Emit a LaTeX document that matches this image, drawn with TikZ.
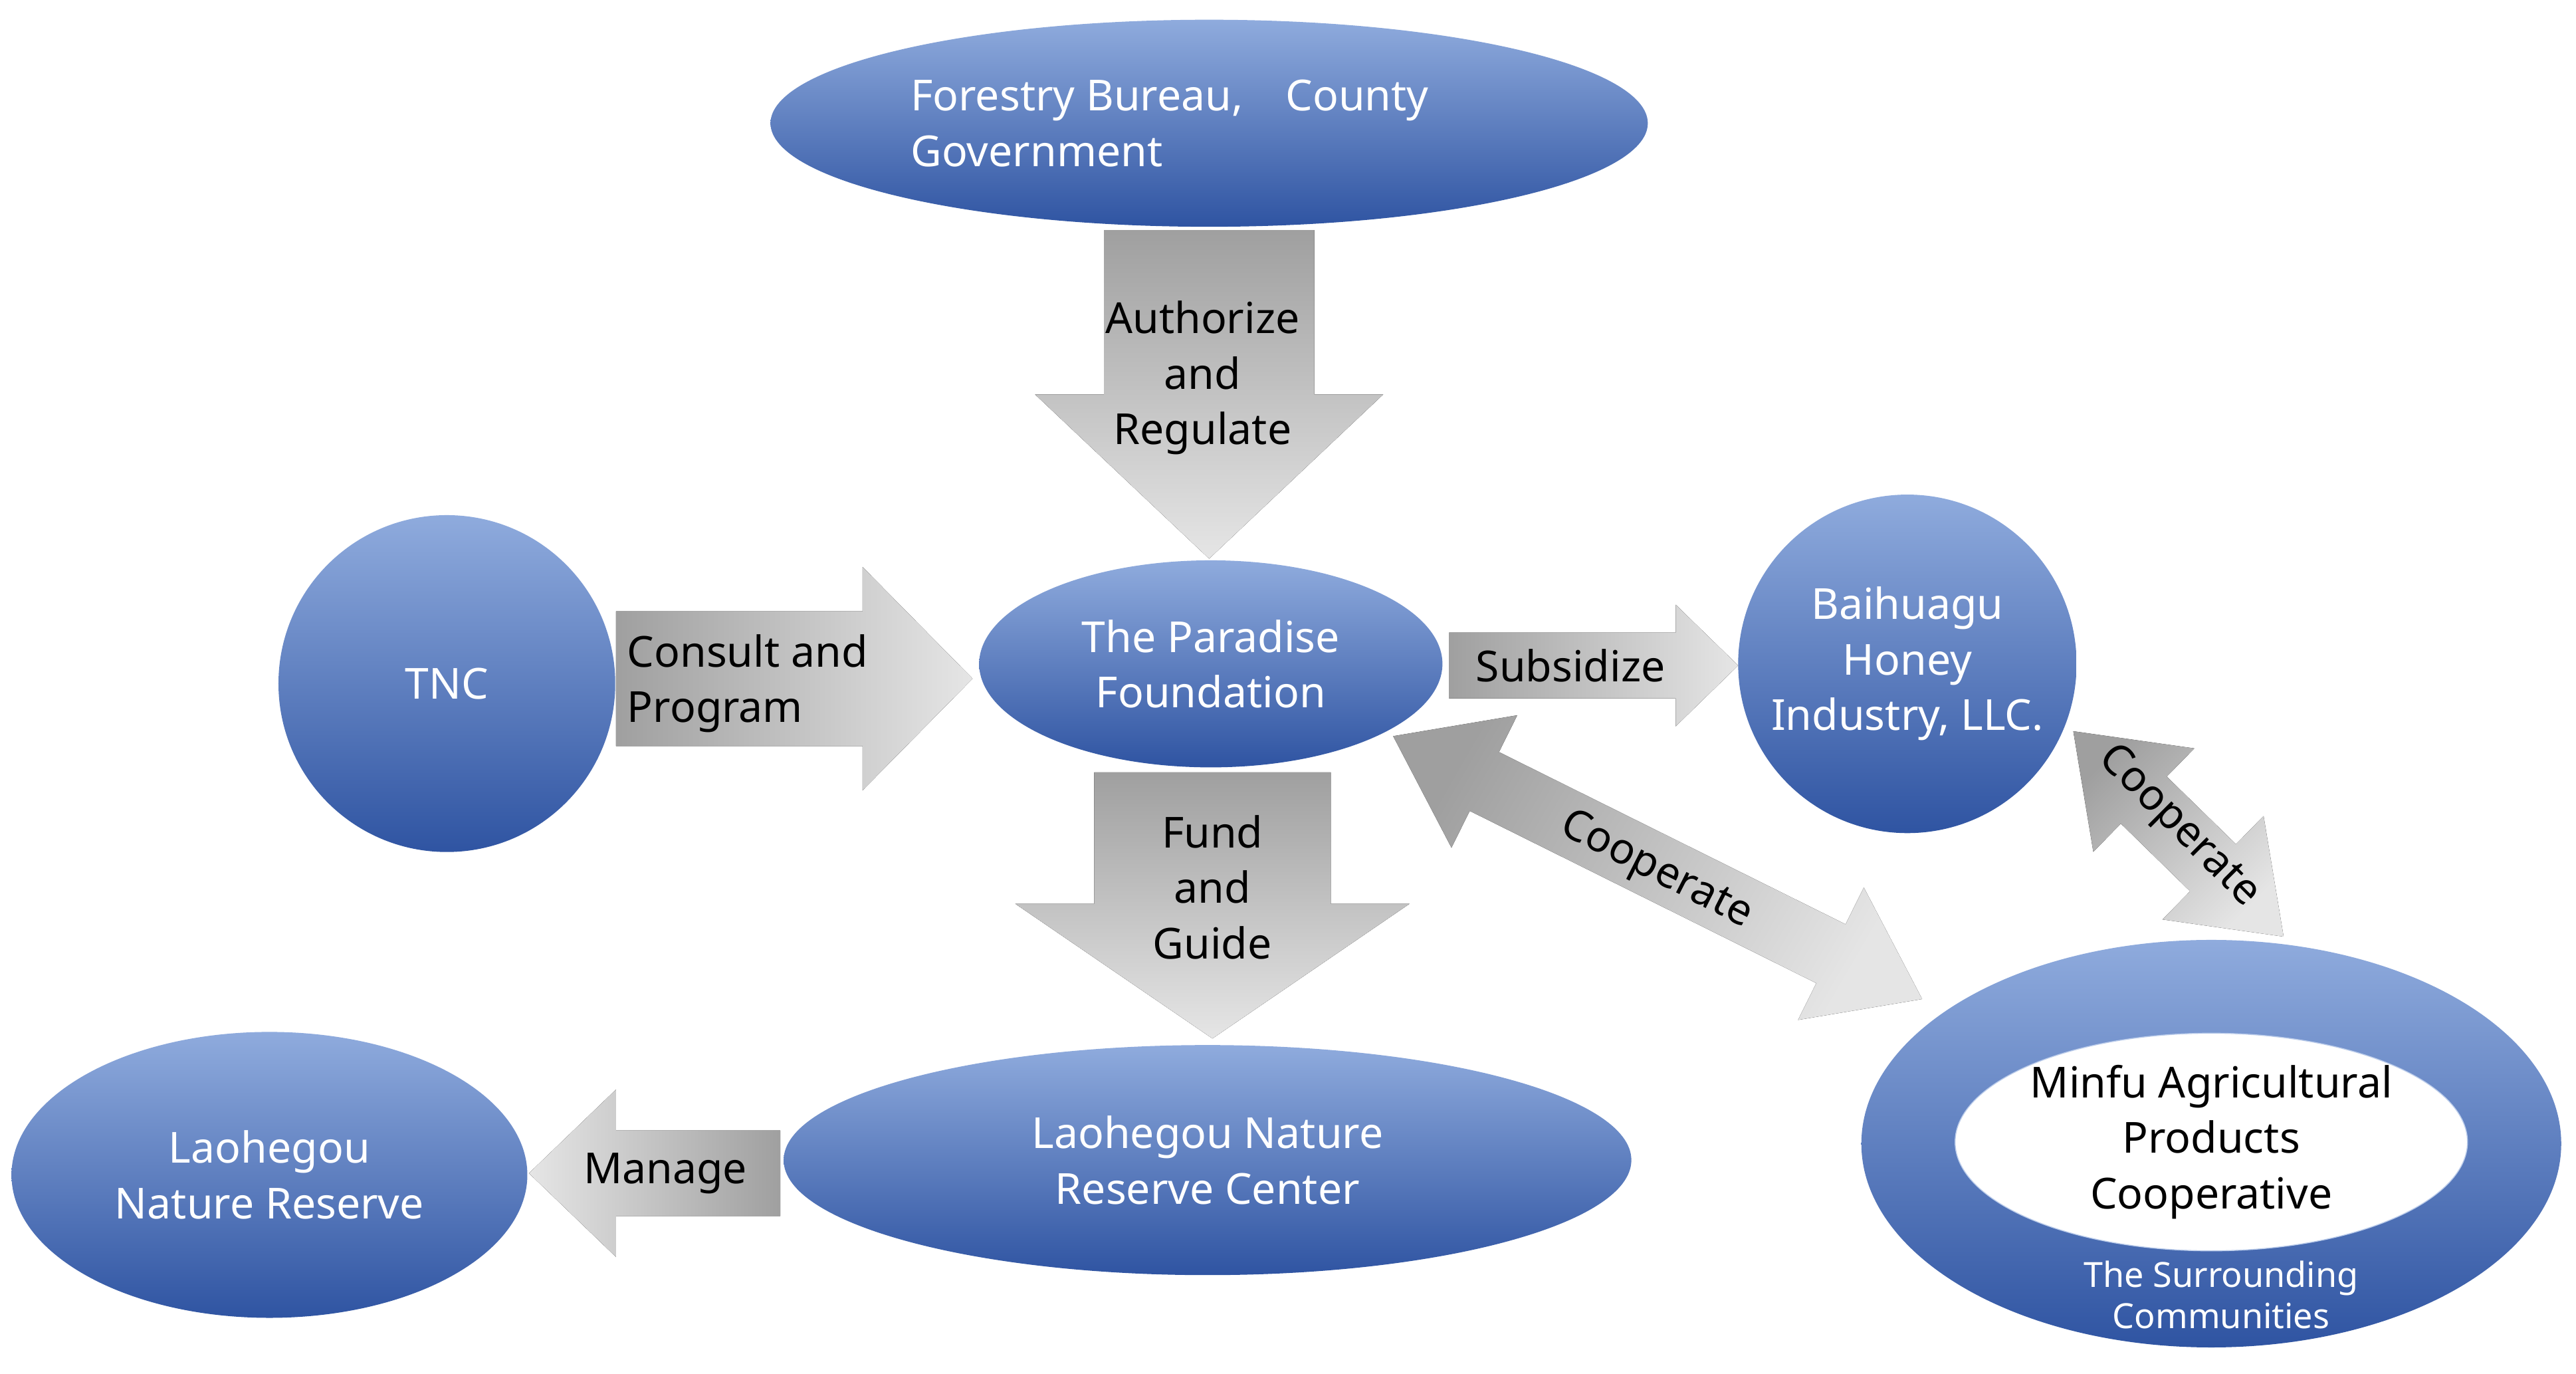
\documentclass[tikz,border=0pt]{standalone}
\usepackage{fontspec}
\setmainfont{Noto Sans}
\usetikzlibrary{calc,positioning,shapes.geometric}
\definecolor{blueTop}{HTML}{8FABDD}
\definecolor{blueBot}{HTML}{2F54A2}
\tikzset{
  org/.style={ellipse, draw=none, top color=blueTop, bottom color=blueBot,
    text=white, align=center, font=\fontsize{18.5}{24}\selectfont, inner sep=0pt},
  lbl/.style={align=center, font=\fontsize{18.5}{24}\selectfont, inner sep=1pt},
  fat/.style={draw=none, left color=gray!75, right color=gray!20},
}
% wide arrow: from, to, shaft half width, head half width, head length, shading angle
\newcommand\fatarrow[6]{%
  \coordinate (hb) at ($(#2)!{#5*0.025cm}!(#1)$);
  \fill[fat, shading angle=#6]
    ($(#1)!{#3*0.025cm}!90:(#2)$) -- ($(hb)!{#3*0.025cm}!-90:(#1)$)
    -- ($(hb)!{#4*0.025cm}!-90:(#1)$) -- (#2)
    -- ($(hb)!{#4*0.025cm}!90:(#1)$) -- ($(hb)!{#3*0.025cm}!90:(#1)$)
    -- ($(#1)!{#3*0.025cm}!-90:(#2)$) -- cycle;}
% wide double arrow: end, end, shaft half width, head half width, head length, shading angle
\newcommand\dblarrow[6]{%
  \coordinate (ha) at ($(#1)!{#5*0.025cm}!(#2)$);
  \coordinate (hb) at ($(#2)!{#5*0.025cm}!(#1)$);
  \fill[fat, shading angle=#6]
    (#1) -- ($(ha)!{#4*0.025cm}!90:(#2)$) -- ($(ha)!{#3*0.025cm}!90:(#2)$)
    -- ($(hb)!{#3*0.025cm}!-90:(#1)$) -- ($(hb)!{#4*0.025cm}!-90:(#1)$) -- (#2)
    -- ($(hb)!{#4*0.025cm}!90:(#1)$) -- ($(hb)!{#3*0.025cm}!90:(#1)$)
    -- ($(ha)!{#3*0.025cm}!-90:(#2)$) -- ($(ha)!{#4*0.025cm}!-90:(#2)$) -- cycle;}
\begin{document}
\begin{tikzpicture}[x=0.025cm, y=-0.025cm]
  \useasboundingbox (0,0) rectangle (1568,836);
  %--- organisations
  \node[org, align=left, minimum width=534*0.025cm, minimum height=126*0.025cm] (FB) at (736,75)
    {\hspace*{-1.2cm}Forestry Bureau,\quad County\\\hspace*{-1.2cm}Government};
  \node[org, circle, minimum size=205*0.025cm] (TNC) at (272,416) {TNC};
  \node[org, minimum width=282*0.025cm, minimum height=126*0.025cm] (PF) at (737,404) {The Paradise\\Foundation};
  \node[org, circle, minimum size=206*0.025cm] (BH) at (1161,404) {Baihuagu\\Honey\\Industry, LLC.};
  \node[org, minimum width=516*0.025cm, minimum height=140*0.025cm] (RC) at (735,706) {Laohegou Nature\\Reserve Center};
  \node[org, minimum width=314*0.025cm, minimum height=174*0.025cm] (NR) at (164,715) {Laohegou\\Nature Reserve};
  \node[org, minimum width=426*0.025cm, minimum height=248*0.025cm] (SC) at (1346,696) {};
  \node[ellipse, fill=white, draw=blueTop!60, minimum width=304*0.025cm, minimum height=124*0.025cm,
    lbl, inner sep=0pt] (MF) at (1346,695) {Minfu Agricultural\\Products\\Cooperative};
  \node[text=white, align=center, font=\fontsize{15}{18}\selectfont, inner sep=0pt] (SCt) at (1352,788) {The Surrounding\\Communities};
  %--- arrows
  \coordinate (a1) at (736,140); \coordinate (a2) at (736,340);
  \fatarrow{a1}{a2}{64}{106}{100}{0}
  \coordinate (b1) at (375,413); \coordinate (b2) at (592,413);
  \fatarrow{b1}{b2}{41}{68}{67}{90}
  \coordinate (c1) at (882,405); \coordinate (c2) at (1058,405);
  \fatarrow{c1}{c2}{20}{37}{38}{90}
  \coordinate (d1) at (738,470); \coordinate (d2) at (738,632);
  \fatarrow{d1}{d2}{72}{120}{82}{0}
  \coordinate (e1) at (475,714); \coordinate (e2) at (322,714);
  \fatarrow{e1}{e2}{26}{51}{53}{-90}
  \coordinate (f1) at (848,448); \coordinate (f2) at (1170,608);
  \dblarrow{f1}{f2}{20}{45}{62}{60}
  \coordinate (g1) at (1262,445); \coordinate (g2) at (1390,570);
  \dblarrow{g1}{g2}{20}{44}{60}{45}
  %--- arrow labels
  \node[lbl] (l1) at (732,230) {Authorize\\and\\Regulate};
  \node[lbl, align=left] (l2) at (455,416) {Consult and\\Program};
  \node[lbl] (l3) at (956,405) {Subsidize};
  \node[lbl] (l4) at (738,540) {Fund\\and\\Guide};
  \node[lbl] (l5) at (405,714) {Manage};
  \node[lbl, rotate=-27] (l6) at (1008,530) {Cooperate};
  \node[lbl, rotate=-45, inner sep=0pt] (l7) at (1326,503) {Cooperate};
\end{tikzpicture}
\end{document}
